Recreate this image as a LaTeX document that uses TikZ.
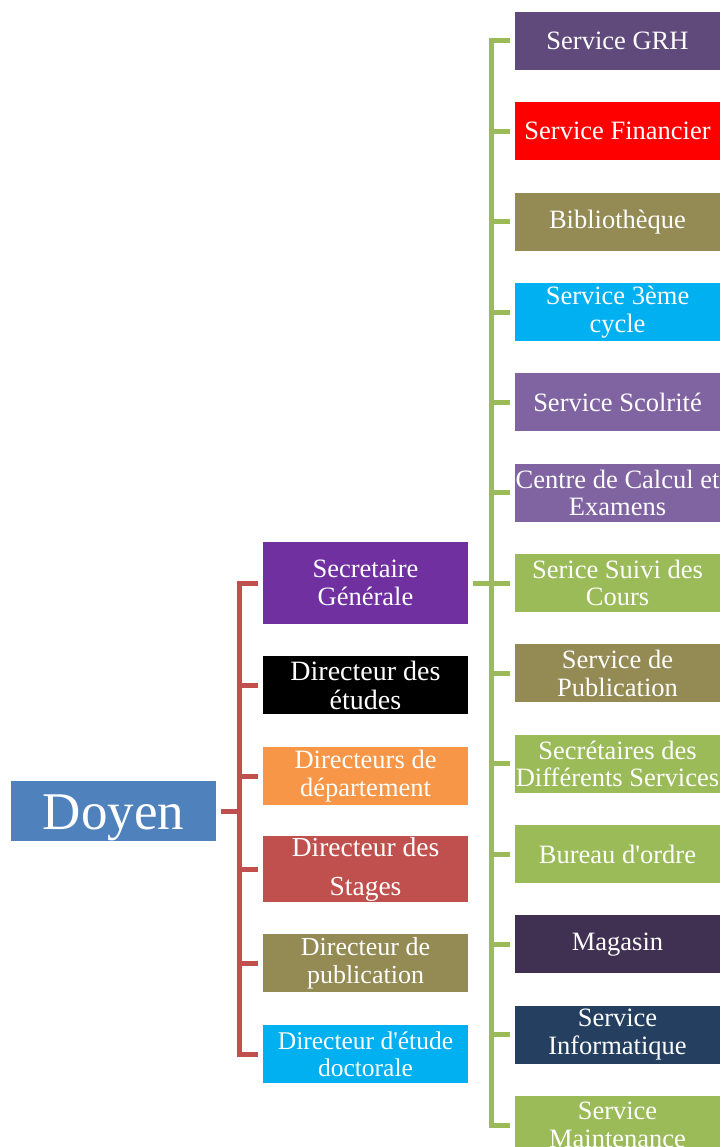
\documentclass[tikz,border=0pt]{standalone}
\usepackage{fontspec}
\setmainfont{Liberation Serif}

\definecolor{doyenblue}{HTML}{4F81BD}
\definecolor{darkpurple}{HTML}{604A7B}
\definecolor{purple}{HTML}{7030A0}
\definecolor{lavender}{HTML}{8064A2}
\definecolor{olive}{HTML}{948A54}
\definecolor{cyan}{HTML}{00B0F0}
\definecolor{lightgreen}{HTML}{9BBB59}
\definecolor{orange}{HTML}{F79646}
\definecolor{brickred}{HTML}{C0504D}
\definecolor{plum}{HTML}{403152}
\definecolor{navy}{HTML}{243F60}

\tikzset{
  box/.style={fill=#1, text=white, minimum width=205pt, minimum height=58pt,
    inner sep=0pt, outer sep=5pt, align=center, font=\fontsize{26.5}{27.5}\selectfont},
  redline/.style={draw=brickred, line width=5pt},
  greenline/.style={draw=lightgreen, line width=5pt},
}

\begin{document}
\begin{tikzpicture}[x=1pt, y=-1pt]
            \useasboundingbox (0, 0) rectangle (723, 1147);
            \node[box=doyenblue, minimum height=57pt, text height=49pt, text depth=11.5pt, font=\fontsize{53}{55}\selectfont] (doyen) at (113.5, 811){Doyen};

            % colonne des directeurs
            \node[box=purple, minimum height=82pt] (secg) at (365.5, 583){Secretaire\\Générale};
            \node[box=black, font=\fontsize{28}{29}\selectfont] (etud) at (365.5, 685){Directeur des\\études};
            \node[box=orange, font=\fontsize{26.5}{27.5}\selectfont] (dept) at (365.5, 776){Directeurs de\\département};
            \node[box=brickred, minimum height=66pt, font=\fontsize{27.5}{29}\selectfont] (stag) at (365.5, 869){Directeur des\\[10pt]Stages};
            \node[box=olive, font=\fontsize{26}{27.5}\selectfont] (publ) at (365.5, 963){Directeur de\\publication};
            \node[box=cyan, font=\fontsize{25.5}{27.5}\selectfont] (doct) at (365.5, 1054){Directeur d\textquotesingle étude\\doctorale};

            % colonne des services
            \node[box=darkpurple] (grh) at (617.5, 41){Service GRH};
            \node[box=red] (fin) at (617.5, 131.3){Service Financier};
            \node[box=olive] (bib) at (617.5, 221.7){Bibliothèque};
            \node[box=cyan] (cyc) at (617.5, 312){Service 3ème\\cycle};
            \node[box=lavender] (scol) at (617.5, 402.3){Service Scolrité};
            \node[box=lavender] (calc) at (617.5, 492.7){Centre de Calcul et\\Examens};
            \node[box=lightgreen] (suivi) at (617.5, 583){Serice Suivi des\\Cours};
            \node[box=olive] (spub) at (617.5, 673.3){Service de\\Publication};
            \node[box=lightgreen] (secr) at (617.5, 763.7){Secrétaires des\\Différents Services};
            \node[box=lightgreen] (bur) at (617.5, 854){Bureau d\textquotesingle ordre};
            \node[box=plum] (mag) at (617.5, 944.3){Magasin};
            \node[box=navy] (info) at (617.5, 1034.7){Service\\Informatique};
            \node[box=lightgreen] (maint) at (617.5, 1125){Service\\Maintenance};

            \coordinate (rbar) at (239, 0);
            \coordinate (gbar) at (491, 0);

            \draw[redline] (doyen.east) -- (rbar |- doyen.east);
            \draw[redline] (secg.west) -- (rbar |- secg.west) -- (rbar |- doct.west) -- (doct.west);
            \draw[redline] (rbar |- etud.west) -- (etud.west);
            \draw[redline] (rbar |- dept.west) -- (dept.west);
            \draw[redline] (rbar |- stag.west) -- (stag.west);
            \draw[redline] (rbar |- publ.west) -- (publ.west);

            \draw[greenline] (secg.east) -- (gbar |- secg.east);
            \draw[greenline] (grh.west) -- (gbar |- grh.west) -- (gbar |- maint.west) -- (maint.west);
            \draw[greenline] (gbar |- fin.west) -- (fin.west);
            \draw[greenline] (gbar |- bib.west) -- (bib.west);
            \draw[greenline] (gbar |- cyc.west) -- (cyc.west);
            \draw[greenline] (gbar |- scol.west) -- (scol.west);
            \draw[greenline] (gbar |- calc.west) -- (calc.west);
            \draw[greenline] (gbar |- suivi.west) -- (suivi.west);
            \draw[greenline] (gbar |- spub.west) -- (spub.west);
            \draw[greenline] (gbar |- secr.west) -- (secr.west);
            \draw[greenline] (gbar |- bur.west) -- (bur.west);
            \draw[greenline] (gbar |- mag.west) -- (mag.west);
            \draw[greenline] (gbar |- info.west) -- (info.west);

        \end{tikzpicture}
\end{document}
